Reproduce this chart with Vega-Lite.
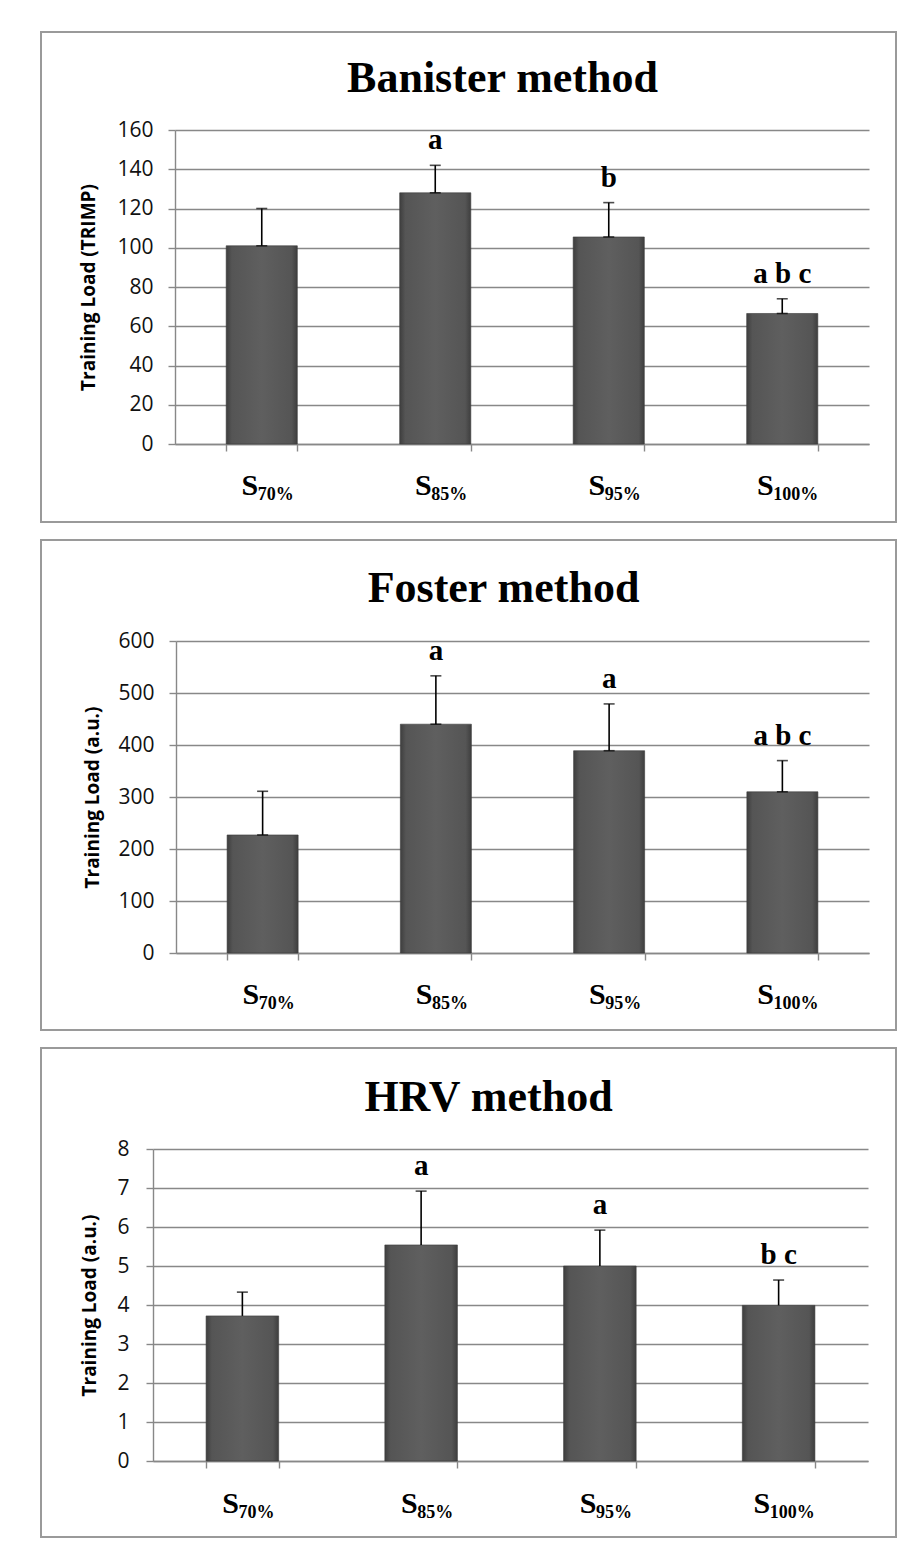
{
  "$schema": "https://vega.github.io/schema/vega-lite/v6.json",
  "padding": {"left": 40, "top": 31, "right": 0, "bottom": 0},
  "background": "white",
  "spacing": 16,
  "config": {
    "view": {"stroke": "#9a9a9a", "strokeWidth": 2},
    "axis": {"gridColor": "#888888", "gridWidth": 1.4, "domainColor": "#888888", "domainWidth": 1.4, "tickColor": "#888888", "tickWidth": 1.4, "tickSize": 7}
  },
  "vconcat": [
    {
      "width": 855, "height": 490,
      "title": {"text": "Banister method", "font": "Liberation Serif", "fontWeight": "bold", "fontSize": 44, "color": "#000", "anchor": "middle", "frame": "group", "offset": -69, "dx": 34},
      "data": {"values": [
        {"cond": "70%", "mean": 101, "upper": 120, "sig": ""},
        {"cond": "85%", "mean": 128, "upper": 142, "sig": "a"},
        {"cond": "95%", "mean": 105.5, "upper": 123, "sig": "b"},
        {"cond": "100%", "mean": 66.5, "upper": 74, "sig": "a b c"}
      ]},
      "resolve": {"axis": {"x": "independent"}},
      "layer": [
        {
          "mark": {"type": "bar", "stroke": "#3a3a3a", "strokeWidth": 0.6, "fill": {"gradient": "linear", "x1": 0, "x2": 1, "y1": 0, "y2": 0, "stops": [{"offset": 0, "color": "#3e3e3e"}, {"offset": 0.08, "color": "#555555"}, {"offset": 0.5, "color": "#5f5f5f"}, {"offset": 0.92, "color": "#555555"}, {"offset": 1, "color": "#3e3e3e"}]}},
          "encoding": {
            "x": {"field": "cond", "type": "nominal", "sort": ["70%", "85%", "95%", "100%"],
              "scale": {"type": "band", "range": [134, 828], "paddingInner": 0.59, "paddingOuter": 0.295},
              "axis": {"orient": "bottom", "offset": -78, "title": null, "grid": false, "tickBand": "extent", "labelExpr": "datum.label ? 'S' : ''", "labelFont": "Liberation Serif", "labelFontWeight": "bold", "labelFontSize": 30, "labelColor": "#000", "labelAlign": "right", "labelBaseline": "alphabetic", "labelPadding": 43, "labelAngle": 0,
                "labelOffset": {"condition": {"test": "datum.value === '100%'", "value": -9}, "value": -4}}},
            "y": {"field": "mean", "type": "quantitative",
              "scale": {"domain": [0, 160], "range": [412, 98], "nice": false, "zero": true},
              "axis": {"offset": -134, "values": [0, 20, 40, 60, 80, 100, 120, 140, 160], "format": "d", "title": "Training Load (TRIMP)", "titleFont": "Open Sans", "titleFontWeight": "bold", "titleFontSize": 19, "titleColor": "#000", "titleX": -87, "titleBaseline": "middle", "labelFont": "Open Sans", "labelFontSize": 21, "labelColor": "#111", "labelPadding": 15}}
          }
        },
        {
          "mark": {"type": "rule", "color": "#000", "strokeWidth": 1.6},
          "encoding": {
            "x": {"field": "cond", "type": "nominal", "sort": ["70%", "85%", "95%", "100%"],
              "axis": {"orient": "bottom", "offset": -78, "title": null, "grid": false, "domain": false, "tickOpacity": 0, "labelFont": "Liberation Serif", "labelFontWeight": "bold", "labelFontSize": 18, "labelColor": "#000", "labelAlign": "left", "labelBaseline": "alphabetic", "labelPadding": 48, "labelAngle": 0,
                "labelOffset": {"condition": {"test": "datum.value === '100%'", "value": -9}, "value": -4}}},
            "y": {"field": "mean", "type": "quantitative"},
            "y2": {"field": "upper"}
          }
        },
        {
          "mark": {"type": "tick", "color": "#000", "size": 11, "thickness": 1.6},
          "encoding": {
            "x": {"field": "cond", "type": "nominal", "sort": ["70%", "85%", "95%", "100%"], "axis": null},
            "y": {"field": "upper", "type": "quantitative"}
          }
        },
        {
          "mark": {"type": "tick", "color": "#000", "size": 11, "thickness": 1.6},
          "encoding": {
            "x": {"field": "cond", "type": "nominal", "sort": ["70%", "85%", "95%", "100%"], "axis": null},
            "y": {"field": "mean", "type": "quantitative"}
          }
        },
        {
          "mark": {"type": "text", "font": "Liberation Serif", "fontWeight": "bold", "fontSize": 29, "color": "#000", "baseline": "alphabetic", "dy": -16},
          "encoding": {
            "x": {"field": "cond", "type": "nominal", "sort": ["70%", "85%", "95%", "100%"], "axis": null},
            "y": {"field": "upper", "type": "quantitative"},
            "text": {"field": "sig"}
          }
        }
      ]
    },
    {
      "width": 855, "height": 490,
      "title": {"text": "Foster method", "font": "Liberation Serif", "fontWeight": "bold", "fontSize": 44, "color": "#000", "anchor": "middle", "frame": "group", "offset": -71, "dx": 35},
      "data": {"values": [
        {"cond": "70%", "mean": 227, "upper": 311, "sig": ""},
        {"cond": "85%", "mean": 440, "upper": 533, "sig": "a"},
        {"cond": "95%", "mean": 389, "upper": 479, "sig": "a"},
        {"cond": "100%", "mean": 310, "upper": 370, "sig": "a b c"}
      ]},
      "resolve": {"axis": {"x": "independent"}},
      "layer": [
        {
          "mark": {"type": "bar", "stroke": "#3a3a3a", "strokeWidth": 0.6, "fill": {"gradient": "linear", "x1": 0, "x2": 1, "y1": 0, "y2": 0, "stops": [{"offset": 0, "color": "#3e3e3e"}, {"offset": 0.08, "color": "#555555"}, {"offset": 0.5, "color": "#5f5f5f"}, {"offset": 0.92, "color": "#555555"}, {"offset": 1, "color": "#3e3e3e"}]}},
          "encoding": {
            "x": {"field": "cond", "type": "nominal", "sort": ["70%", "85%", "95%", "100%"],
              "scale": {"type": "band", "range": [135, 828], "paddingInner": 0.59, "paddingOuter": 0.295},
              "axis": {"orient": "bottom", "offset": -77, "title": null, "grid": false, "tickBand": "extent", "labelExpr": "datum.label ? 'S' : ''", "labelFont": "Liberation Serif", "labelFontWeight": "bold", "labelFontSize": 30, "labelColor": "#000", "labelAlign": "right", "labelBaseline": "alphabetic", "labelPadding": 43, "labelAngle": 0,
                "labelOffset": {"condition": {"test": "datum.value === '100%'", "value": -9}, "value": -4}}},
            "y": {"field": "mean", "type": "quantitative",
              "scale": {"domain": [0, 600], "range": [413, 101], "nice": false, "zero": true},
              "axis": {"offset": -135, "values": [0, 100, 200, 300, 400, 500, 600], "format": "d", "title": "Training Load (a.u.)", "titleFont": "Open Sans", "titleFontWeight": "bold", "titleFontSize": 19, "titleColor": "#000", "titleX": -84, "titleBaseline": "middle", "labelFont": "Open Sans", "labelFontSize": 21, "labelColor": "#111", "labelPadding": 15}}
          }
        },
        {
          "mark": {"type": "rule", "color": "#000", "strokeWidth": 1.6},
          "encoding": {
            "x": {"field": "cond", "type": "nominal", "sort": ["70%", "85%", "95%", "100%"],
              "axis": {"orient": "bottom", "offset": -77, "title": null, "grid": false, "domain": false, "tickOpacity": 0, "labelFont": "Liberation Serif", "labelFontWeight": "bold", "labelFontSize": 18, "labelColor": "#000", "labelAlign": "left", "labelBaseline": "alphabetic", "labelPadding": 48, "labelAngle": 0,
                "labelOffset": {"condition": {"test": "datum.value === '100%'", "value": -9}, "value": -4}}},
            "y": {"field": "mean", "type": "quantitative"},
            "y2": {"field": "upper"}
          }
        },
        {
          "mark": {"type": "tick", "color": "#000", "size": 11, "thickness": 1.6},
          "encoding": {
            "x": {"field": "cond", "type": "nominal", "sort": ["70%", "85%", "95%", "100%"], "axis": null},
            "y": {"field": "upper", "type": "quantitative"}
          }
        },
        {
          "mark": {"type": "tick", "color": "#000", "size": 11, "thickness": 1.6},
          "encoding": {
            "x": {"field": "cond", "type": "nominal", "sort": ["70%", "85%", "95%", "100%"], "axis": null},
            "y": {"field": "mean", "type": "quantitative"}
          }
        },
        {
          "mark": {"type": "text", "font": "Liberation Serif", "fontWeight": "bold", "fontSize": 29, "color": "#000", "baseline": "alphabetic", "dy": -16},
          "encoding": {
            "x": {"field": "cond", "type": "nominal", "sort": ["70%", "85%", "95%", "100%"], "axis": null},
            "y": {"field": "upper", "type": "quantitative"},
            "text": {"field": "sig"}
          }
        }
      ]
    },
    {
      "width": 855, "height": 489,
      "title": {"text": "HRV method", "font": "Liberation Serif", "fontWeight": "bold", "fontSize": 44, "color": "#000", "anchor": "middle", "frame": "group", "offset": -72, "dx": 20},
      "data": {"values": [
        {"cond": "70%", "mean": 3.72, "upper": 4.33, "sig": ""},
        {"cond": "85%", "mean": 5.54, "upper": 6.92, "sig": "a"},
        {"cond": "95%", "mean": 5.0, "upper": 5.92, "sig": "a"},
        {"cond": "100%", "mean": 3.99, "upper": 4.64, "sig": "b c"}
      ]},
      "resolve": {"axis": {"x": "independent"}},
      "layer": [
        {
          "mark": {"type": "bar", "stroke": "#3a3a3a", "strokeWidth": 0.6, "fill": {"gradient": "linear", "x1": 0, "x2": 1, "y1": 0, "y2": 0, "stops": [{"offset": 0, "color": "#3e3e3e"}, {"offset": 0.08, "color": "#555555"}, {"offset": 0.5, "color": "#5f5f5f"}, {"offset": 0.92, "color": "#555555"}, {"offset": 1, "color": "#3e3e3e"}]}},
          "encoding": {
            "x": {"field": "cond", "type": "nominal", "sort": ["70%", "85%", "95%", "100%"],
              "scale": {"type": "band", "range": [112, 827], "paddingInner": 0.594, "paddingOuter": 0.297},
              "axis": {"orient": "bottom", "offset": -76, "title": null, "grid": false, "tickBand": "extent", "labelExpr": "datum.label ? 'S' : ''", "labelFont": "Liberation Serif", "labelFontWeight": "bold", "labelFontSize": 30, "labelColor": "#000", "labelAlign": "right", "labelBaseline": "alphabetic", "labelPadding": 44, "labelAngle": 0,
                "labelOffset": {"condition": {"test": "datum.value === '100%'", "value": -9}, "value": -4}}},
            "y": {"field": "mean", "type": "quantitative",
              "scale": {"domain": [0, 8], "range": [413, 101], "nice": false, "zero": true},
              "axis": {"offset": -112, "values": [0, 1, 2, 3, 4, 5, 6, 7, 8], "format": "d", "title": "Training Load (a.u.)", "titleFont": "Open Sans", "titleFontWeight": "bold", "titleFontSize": 19, "titleColor": "#000", "titleX": -63.5, "titleBaseline": "middle", "labelFont": "Open Sans", "labelFontSize": 21, "labelColor": "#111", "labelPadding": 17}}
          }
        },
        {
          "mark": {"type": "rule", "color": "#000", "strokeWidth": 1.6},
          "encoding": {
            "x": {"field": "cond", "type": "nominal", "sort": ["70%", "85%", "95%", "100%"],
              "axis": {"orient": "bottom", "offset": -76, "title": null, "grid": false, "domain": false, "tickOpacity": 0, "labelFont": "Liberation Serif", "labelFontWeight": "bold", "labelFontSize": 18, "labelColor": "#000", "labelAlign": "left", "labelBaseline": "alphabetic", "labelPadding": 49, "labelAngle": 0,
                "labelOffset": {"condition": {"test": "datum.value === '100%'", "value": -9}, "value": -4}}},
            "y": {"field": "mean", "type": "quantitative"},
            "y2": {"field": "upper"}
          }
        },
        {
          "mark": {"type": "tick", "color": "#000", "size": 11, "thickness": 1.6},
          "encoding": {
            "x": {"field": "cond", "type": "nominal", "sort": ["70%", "85%", "95%", "100%"], "axis": null},
            "y": {"field": "upper", "type": "quantitative"}
          }
        },
        {
          "mark": {"type": "text", "font": "Liberation Serif", "fontWeight": "bold", "fontSize": 29, "color": "#000", "baseline": "alphabetic", "dy": -16},
          "encoding": {
            "x": {"field": "cond", "type": "nominal", "sort": ["70%", "85%", "95%", "100%"], "axis": null},
            "y": {"field": "upper", "type": "quantitative"},
            "text": {"field": "sig"}
          }
        }
      ]
    }
  ]
}
